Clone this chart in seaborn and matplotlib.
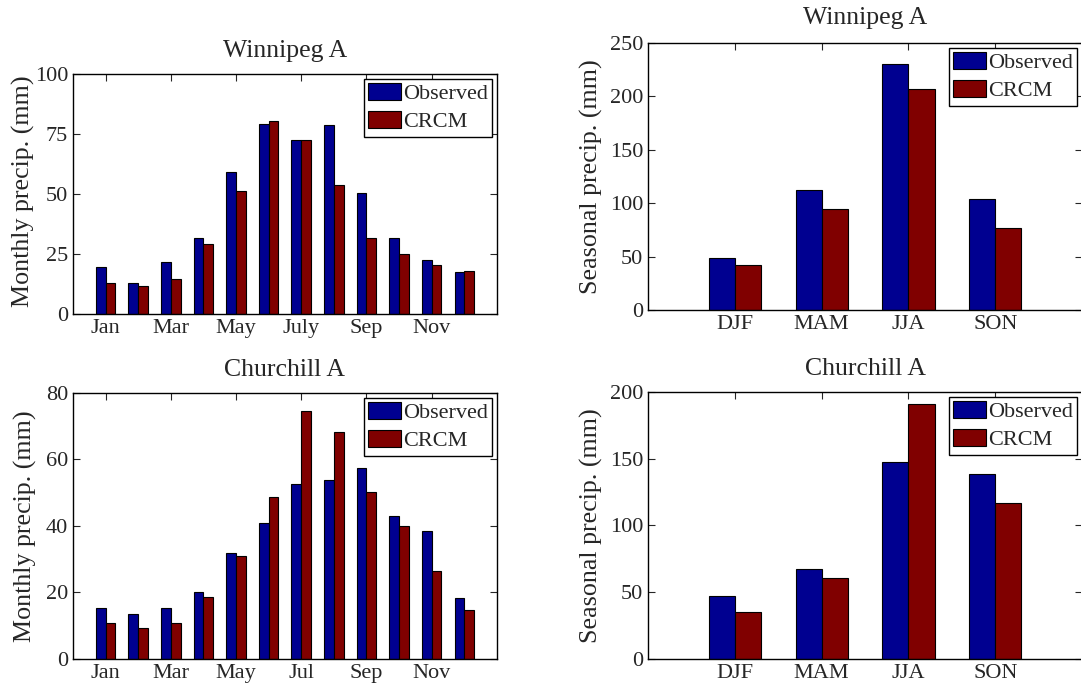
import numpy as np
import pandas as pd
import matplotlib
matplotlib.use("Agg")
import matplotlib.pyplot as plt
import seaborn as sns
from matplotlib.patches import Patch

# Monthly and seasonal precipitation (mm)
months = ["Jan", "Feb", "Mar", "Apr", "May", "Jun", "Jul", "Aug", "Sep", "Oct", "Nov", "Dec"]
winnipeg_month_ticks = ["Jan", "Mar", "May", "July", "Sep", "Nov"]
churchill_month_ticks = ["Jan", "Mar", "May", "Jul", "Sep", "Nov"]
seasons = ["DJF", "MAM", "JJA", "SON"]

winnipeg_obs = [19.5, 12.8, 21.8, 31.8, 59.2, 79.1, 72.6, 78.9, 50.5, 31.6, 22.4, 17.5]
winnipeg_crcm = [12.9, 11.7, 14.6, 29.1, 51.2, 80.5, 72.6, 53.7, 31.8, 25.0, 20.4, 17.8]
churchill_obs = [15.4, 13.4, 15.3, 20.0, 31.9, 41.0, 52.7, 53.9, 57.3, 42.9, 38.4, 18.4]
churchill_crcm = [10.9, 9.3, 10.9, 18.7, 30.9, 48.6, 74.7, 68.2, 50.1, 40.0, 26.5, 14.8]

winnipeg_seas_obs = [48.9, 112.5, 230.7, 104.1]
winnipeg_seas_crcm = [41.8, 94.5, 206.7, 77.0]
churchill_seas_obs = [47.1, 67.2, 147.2, 138.2]
churchill_seas_crcm = [35.1, 60.5, 190.8, 116.6]

series_names = ["Observed", "CRCM"]
palette = {"Observed": "#000090", "CRCM": "#800000"}

sns.set_style("ticks")
plt.rcParams["font.family"] = ["Liberation Serif", "DejaVu Serif"]
plt.rcParams["mathtext.fontset"] = "stix"

TICK_FS = 16
TITLE_FS = 18.5
YLABEL_FS = 18.7


def long_frame(cats, obs, crcm):
    return pd.DataFrame({
        "cat": list(cats) * 2,
        "value": list(obs) + list(crcm),
        "series": [series_names[0]] * len(cats) + [series_names[1]] * len(cats),
    })


def draw_panel(ax, cats, obs, crcm, title, ylabel, yticks, tick_pos, tick_labels,
               label_xy, title_pad):
    df = long_frame(cats, obs, crcm)
    sns.barplot(data=df, x="cat", y="value", hue="series", order=cats,
                hue_order=series_names, palette=palette, width=0.6, gap=0,
                edgecolor="black", linewidth=0.8, saturation=1, ax=ax,
                errorbar=None, legend=False)
    ax.set_xlim(-1, len(cats))
    ax.set_ylim(yticks[0], yticks[-1])
    ax.set_yticks(yticks)
    ax.set_xticks(tick_pos)
    ax.set_xticklabels(tick_labels)
    ax.set_xlabel("")
    ax.set_ylabel(ylabel, fontsize=YLABEL_FS)
    ax.yaxis.set_label_coords(*label_xy)
    ax.set_title(title, fontsize=TITLE_FS, pad=title_pad)
    ax.tick_params(direction="in", top=True, right=True, length=5, width=0.8,
                   labelsize=TICK_FS)
    for sp in ax.spines.values():
        sp.set_visible(True)
        sp.set_linewidth(1.0)
        sp.set_color("black")
    handles = [Patch(facecolor=palette[s], edgecolor="black", linewidth=0.8)
               for s in series_names]
    leg = ax.legend(handles, series_names, loc="upper right", fontsize=TICK_FS,
                    fancybox=False, framealpha=1, edgecolor="black",
                    handlelength=1.45, handleheight=0.78, handletextpad=0.1,
                    borderaxespad=0.22, borderpad=0.2, labelspacing=0.3)
    leg.get_frame().set_linewidth(1.0)


fig = plt.figure(figsize=(10.81, 6.88), dpi=100)
ax_tl = fig.add_axes([0.0675, 0.5436, 0.3922, 0.3488])
ax_tr = fig.add_axes([0.5995, 0.5494, 0.4015, 0.3881])
ax_bl = fig.add_axes([0.0675, 0.0422, 0.3922, 0.3866])
ax_br = fig.add_axes([0.5995, 0.0422, 0.4015, 0.3881])

month_tick_pos = list(range(0, 12, 2))
season_tick_pos = list(range(len(seasons)))

draw_panel(ax_tl, months, winnipeg_obs, winnipeg_crcm, "Winnipeg A",
           "Monthly precip. (mm)", [0, 25, 50, 75, 100],
           month_tick_pos, winnipeg_month_ticks, (-0.09, 0.51), 12)
draw_panel(ax_bl, months, churchill_obs, churchill_crcm, "Churchill A",
           "Monthly precip. (mm)", [0, 20, 40, 60, 80],
           month_tick_pos, churchill_month_ticks, (-0.085, 0.5), 12)
draw_panel(ax_tr, seasons, winnipeg_seas_obs, winnipeg_seas_crcm, "Winnipeg A",
           "Seasonal precip. (mm)", [0, 50, 100, 150, 200, 250],
           season_tick_pos, seasons, (-0.104, 0.5), 14)
draw_panel(ax_br, seasons, churchill_seas_obs, churchill_seas_crcm, "Churchill A",
           "Seasonal precip. (mm)", [0, 50, 100, 150, 200],
           season_tick_pos, seasons, (-0.104, 0.5), 12)

fig.savefig("out.png", dpi=100)
